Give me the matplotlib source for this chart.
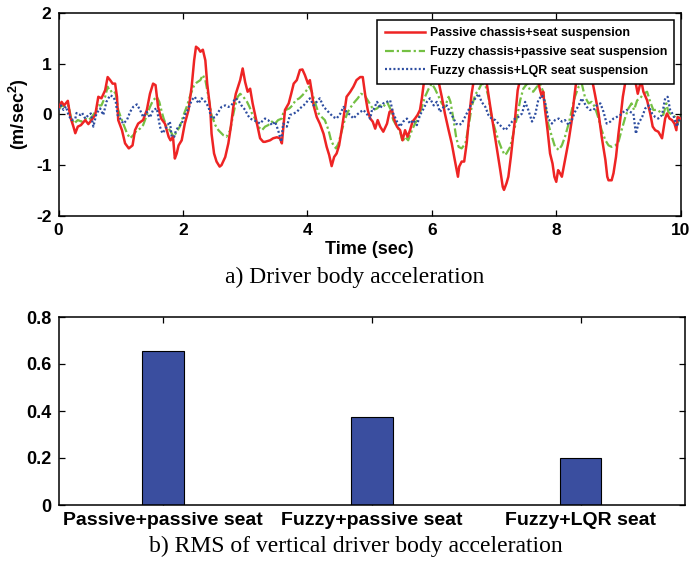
import matplotlib
matplotlib.use("Agg")
import matplotlib.pyplot as plt
import numpy as np

plt.rcParams['font.family'] = ['Liberation Sans', 'DejaVu Sans']
plt.rcParams['font.weight'] = 'bold'
plt.rcParams['axes.labelweight'] = 'bold'
plt.rcParams['axes.unicode_minus'] = False
plt.rcParams['mathtext.fontset'] = 'custom'
plt.rcParams['mathtext.rm'] = 'Liberation Sans:bold'
plt.rcParams['mathtext.bf'] = 'Liberation Sans:bold'
plt.rcParams['mathtext.default'] = 'rm'

# ---------------- data ----------------
series_labels = ["Passive chassis+seat suspension",
                 "Fuzzy chassis+passive seat suspension",
                 "Fuzzy chassis+LQR seat suspension"]

red_points = [
(0.00,0.12),(0.05,0.25),(0.09,0.18),(0.15,0.27),(0.19,-0.05),(0.24,-0.24),(0.27,-0.37),(0.31,-0.24),(0.36,-0.21),(0.43,-0.11),
(0.48,-0.19),(0.53,-0.11),(0.59,-0.01),(0.64,0.35),(0.69,0.32),(0.75,0.48),(0.79,0.74),(0.83,0.68),(0.87,0.61),(0.91,0.61),
(0.94,0.35),(0.96,-0.11),(1.02,-0.31),(1.07,-0.57),(1.13,-0.67),(1.19,-0.61),(1.23,-0.31),(1.28,-0.18),(1.36,-0.11),(1.42,0.09),
(1.47,0.41),(1.52,0.61),(1.56,0.58),(1.60,0.15),(1.65,-0.08),(1.71,-0.18),(1.77,-0.44),(1.80,-0.51),(1.84,-0.44),(1.87,-0.87),
(1.90,-0.77),(1.93,-0.61),(1.98,-0.51),(2.03,-0.18),(2.09,0.09),(2.14,0.55),(2.18,1.07),(2.21,1.34),(2.25,1.30),(2.28,1.24),
(2.32,1.28),(2.36,1.07),(2.39,0.61),(2.44,0.09),(2.46,-0.38),(2.50,-0.77),(2.54,-0.93),(2.59,-1.03),(2.62,-1.00),(2.68,-0.84),
(2.73,-0.57),(2.77,-0.24),(2.81,0.15),(2.85,0.41),(2.92,0.68),(2.96,0.91),(3.00,0.64),(3.04,0.45),(3.08,0.51),(3.12,0.22),
(3.16,-0.01),(3.20,-0.24),(3.24,-0.47),(3.29,-0.54),(3.32,-0.54),(3.40,-0.51),(3.45,-0.47),(3.51,-0.45),(3.56,-0.47),(3.59,-0.57),
(3.61,-0.31),(3.64,0.09),(3.70,0.22),(3.74,0.41),(3.78,0.61),(3.83,0.68),(3.88,0.88),(3.92,0.89),(3.96,0.78),(4.01,0.61),
(4.04,0.68),(4.07,0.45),(4.10,0.18),(4.15,-0.05),(4.20,-0.18),(4.26,-0.38),(4.31,-0.64),(4.35,-0.80),(4.39,-1.02),(4.43,-0.84),
(4.47,-0.77),(4.51,-0.61),(4.55,-0.31),(4.60,0.09),(4.63,0.35),(4.69,0.45),(4.74,0.55),(4.79,0.68),(4.85,0.74),(4.89,0.74),
(4.93,0.38),(4.97,0.09),(5.01,-0.08),(5.05,-0.14),(5.09,-0.28),(5.13,-0.11),(5.17,-0.24),(5.22,-0.34),(5.28,-0.18),(5.32,0.05),
(5.36,0.09),(5.39,-0.08),(5.44,-0.24),(5.49,-0.31),(5.53,-0.51),(5.57,-0.31),(5.61,-0.44),(5.65,-0.31),(5.69,-0.14),(5.73,-0.08),
(5.77,-0.01),(5.81,0.09),(5.84,0.32),(5.87,0.61),(5.90,0.75),(5.95,0.85),(6.02,0.88),(6.10,0.70),(6.16,0.35),(6.21,0.02),
(6.27,-0.31),(6.32,-0.57),(6.36,-0.84),(6.39,-1.03),(6.42,-1.23),(6.44,-1.03),(6.48,-0.93),(6.52,-0.93),(6.56,-0.57),(6.60,-0.05),
(6.64,0.41),(6.67,0.64),(6.75,0.82),(6.80,0.80),(6.88,0.64),(6.94,0.15),(6.99,-0.24),(7.04,-0.64),(7.10,-1.10),(7.14,-1.43),
(7.16,-1.49),(7.20,-1.36),(7.23,-1.23),(7.27,-0.84),(7.31,-0.38),(7.34,-0.05),(7.38,0.48),(7.41,0.64),(7.50,0.85),(7.62,0.85),
(7.71,0.64),(7.74,0.48),(7.77,0.35),(7.79,0.45),(7.82,0.09),(7.86,-0.31),(7.90,-0.77),(7.94,-0.97),(7.97,-1.23),(8.00,-1.33),
(8.03,-1.10),(8.06,-1.16),(8.09,-1.23),(8.12,-1.03),(8.15,-0.84),(8.20,-0.51),(8.25,-0.11),(8.29,0.35),(8.32,0.64),(8.40,0.85),
(8.52,0.85),(8.58,0.66),(8.62,0.41),(8.68,0.02),(8.73,-0.44),(8.79,-0.90),(8.82,-1.23),(8.84,-1.30),(8.89,-1.30),(8.92,-1.16),
(8.96,-0.84),(9.00,-0.38),(9.04,0.02),(9.07,0.35),(9.11,0.64),(9.19,0.72),(9.27,0.66),(9.31,0.41),(9.35,0.61),(9.38,0.58),
(9.40,0.45),(9.46,0.28),(9.51,0.02),(9.55,-0.24),(9.59,-0.31),(9.64,-0.34),(9.70,-0.47),(9.72,-0.31),(9.75,-0.08),(9.78,0.02),
(9.82,-0.08),(9.86,-0.11),(9.90,-0.18),(9.93,-0.31),(9.95,-0.05),(10.0,-0.08)]

green_points = [
(0.00,0.09),(0.05,0.18),(0.10,0.15),(0.16,0.18),(0.20,-0.05),(0.25,-0.18),(0.31,-0.11),(0.37,-0.14),(0.43,-0.08),(0.48,-0.11),
(0.53,-0.06),(0.59,0.05),(0.64,0.18),(0.69,0.18),(0.75,0.35),(0.79,0.55),(0.83,0.45),(0.88,0.48),(0.92,0.41),(0.96,0.09),
(1.00,-0.05),(1.04,-0.18),(1.10,-0.37),(1.15,-0.47),(1.20,-0.41),(1.26,-0.31),(1.31,-0.28),(1.36,-0.21),(1.42,-0.01),(1.47,0.15),
(1.52,0.28),(1.58,0.35),(1.62,0.25),(1.66,0.05),(1.69,-0.08),(1.74,-0.24),(1.79,-0.31),(1.85,-0.44),(1.90,-0.34),(1.95,-0.24),
(2.01,-0.01),(2.06,0.15),(2.11,0.35),(2.17,0.55),(2.22,0.63),(2.28,0.68),(2.32,0.78),(2.36,0.68),(2.41,0.35),(2.46,-0.01),
(2.52,-0.21),(2.57,-0.31),(2.65,-0.41),(2.70,-0.44),(2.76,-0.31),(2.80,-0.05),(2.84,0.18),(2.88,0.35),(2.92,0.41),(2.97,0.35),
(3.03,0.25),(3.07,0.15),(3.11,0.02),(3.16,-0.08),(3.21,-0.24),(3.27,-0.31),(3.32,-0.24),(3.37,-0.21),(3.43,-0.14),(3.48,-0.18),
(3.53,-0.11),(3.59,-0.08),(3.61,0.02),(3.65,0.09),(3.71,0.12),(3.76,0.18),(3.81,0.28),(3.87,0.32),(3.92,0.38),(3.97,0.45),
(4.03,0.55),(4.07,0.45),(4.12,0.25),(4.18,0.02),(4.23,-0.05),(4.28,-0.11),(4.34,-0.31),(4.38,-0.51),(4.42,-0.61),(4.46,-0.67),
(4.50,-0.57),(4.54,-0.38),(4.60,-0.11),(4.65,0.05),(4.70,0.15),(4.76,0.25),(4.81,0.32),(4.86,0.41),(4.92,0.38),(4.97,0.28),
(5.02,0.18),(5.06,0.09),(5.12,0.12),(5.17,0.18),(5.22,0.15),(5.28,0.25),(5.33,0.12),(5.38,-0.11),(5.44,-0.24),(5.49,-0.34),
(5.53,-0.54),(5.57,-0.44),(5.62,-0.51),(5.68,-0.31),(5.73,-0.18),(5.78,-0.08),(5.84,0.15),(5.89,0.35),(5.95,0.51),(6.00,0.61),
(6.05,0.51),(6.11,0.35),(6.16,0.22),(6.21,0.15),(6.27,0.35),(6.30,0.25),(6.35,-0.11),(6.39,-0.44),(6.43,-0.64),(6.48,-0.67),
(6.54,-0.57),(6.59,-0.24),(6.64,0.15),(6.70,0.40),(6.75,0.48),(6.80,0.61),(6.86,0.58),(6.91,0.35),(6.96,-0.05),(7.02,-0.31),
(7.07,-0.51),(7.12,-0.67),(7.17,-0.80),(7.20,-0.77),(7.26,-0.64),(7.31,-0.38),(7.37,-0.05),(7.42,0.28),(7.47,0.51),(7.53,0.61),
(7.58,0.48),(7.63,0.45),(7.69,0.55),(7.74,0.61),(7.79,0.45),(7.83,0.15),(7.87,-0.18),(7.93,-0.44),(7.98,-0.64),(8.04,-0.70),
(8.09,-0.61),(8.14,-0.44),(8.20,-0.18),(8.25,0.09),(8.30,0.35),(8.36,0.55),(8.41,0.61),(8.46,0.35),(8.52,0.22),(8.57,0.25),
(8.62,0.15),(8.68,-0.08),(8.73,-0.31),(8.79,-0.51),(8.84,-0.61),(8.89,-0.64),(8.95,-0.61),(9.00,-0.54),(9.05,-0.31),(9.11,-0.05),
(9.16,0.12),(9.21,0.22),(9.25,0.09),(9.30,0.28),(9.35,0.32),(9.40,0.41),(9.46,0.45),(9.51,0.25),(9.56,0.09),(9.62,0.09),
(9.67,0.05),(9.72,-0.01),(9.77,0.22),(9.80,0.05),(9.86,-0.01),(9.91,-0.05),(9.95,-0.18),(10.0,-0.01)]

blue_points = [
(0.00,0.09),(0.04,0.18),(0.08,0.09),(0.12,0.16),(0.16,-0.01),(0.21,-0.11),(0.27,-0.08),(0.29,0.03),(0.35,-0.01),(0.38,0.03),
(0.43,-0.08),(0.48,-0.01),(0.52,0.02),(0.56,-0.24),(0.61,0.02),(0.67,0.12),(0.72,-0.01),(0.77,0.25),(0.83,0.38),(0.88,0.35),
(0.92,0.25),(0.95,-0.01),(0.99,-0.08),(1.04,-0.18),(1.10,-0.11),(1.15,0.05),(1.20,0.15),(1.26,0.20),(1.31,0.09),(1.36,-0.05),
(1.42,0.05),(1.47,-0.06),(1.52,0.09),(1.58,0.12),(1.63,-0.24),(1.67,-0.37),(1.69,-0.34),(1.74,-0.24),(1.79,-0.14),(1.82,-0.44),
(1.86,-0.44),(1.89,-0.31),(1.93,-0.24),(1.98,-0.18),(2.03,-0.01),(2.09,0.12),(2.14,0.28),(2.19,0.35),(2.25,0.22),(2.30,0.32),
(2.36,0.25),(2.41,0.15),(2.46,-0.08),(2.52,-0.05),(2.57,0.05),(2.62,0.15),(2.68,0.18),(2.73,0.15),(2.78,0.18),(2.84,0.32),
(2.89,0.28),(2.94,0.18),(3.00,0.09),(3.04,-0.01),(3.08,-0.08),(3.13,-0.11),(3.19,-0.14),(3.24,-0.18),(3.29,-0.11),(3.32,-0.08),
(3.37,-0.11),(3.43,-0.21),(3.48,-0.14),(3.53,-0.31),(3.58,-0.54),(3.61,-0.18),(3.67,-0.24),(3.72,-0.01),(3.78,0.02),(3.83,0.05),
(3.88,0.12),(3.94,0.18),(3.99,0.25),(4.04,0.32),(4.10,0.18),(4.15,0.25),(4.20,0.32),(4.26,0.15),(4.31,0.09),(4.36,0.02),
(4.42,-0.05),(4.47,-0.08),(4.53,0.02),(4.58,0.15),(4.63,0.05),(4.69,-0.01),(4.74,-0.08),(4.79,-0.01),(4.85,0.05),(4.90,0.09),
(4.95,0.02),(5.01,-0.08),(5.04,0.10),(5.06,0.09),(5.12,0.25),(5.17,0.12),(5.22,0.22),(5.28,0.25),(5.33,0.28),(5.38,0.02),
(5.44,-0.14),(5.49,-0.24),(5.54,-0.14),(5.60,-0.08),(5.65,-0.18),(5.70,-0.11),(5.76,-0.21),(5.81,-0.01),(5.87,0.12),(5.92,0.25),
(5.97,0.32),(6.03,0.18),(6.08,0.25),(6.13,0.05),(6.19,0.15),(6.24,0.18),(6.29,0.05),(6.35,-0.08),(6.39,-0.18),(6.43,-0.21),
(6.48,-0.18),(6.52,-0.08),(6.59,0.09),(6.64,0.22),(6.70,0.32),(6.75,0.41),(6.80,0.25),(6.86,0.15),(6.91,-0.01),(6.96,-0.08),
(7.02,-0.11),(7.07,-0.18),(7.12,-0.24),(7.18,-0.31),(7.23,-0.24),(7.29,-0.14),(7.34,-0.08),(7.39,-0.05),(7.45,0.02),(7.50,0.25),
(7.55,0.09),(7.61,-0.14),(7.66,-0.01),(7.71,0.28),(7.77,0.38),(7.82,0.25),(7.87,-0.08),(7.93,-0.18),(7.98,-0.11),(8.04,-0.08),
(8.09,-0.14),(8.14,-0.11),(8.20,-0.21),(8.25,-0.11),(8.30,0.05),(8.36,0.18),(8.41,0.32),(8.44,0.25),(8.49,0.15),(8.54,0.09),
(8.60,0.09),(8.65,0.18),(8.71,0.22),(8.76,0.05),(8.81,-0.18),(8.87,-0.14),(8.92,-0.08),(8.97,-0.05),(9.03,-0.01),(9.08,0.05),
(9.13,0.09),(9.19,0.05),(9.24,0.02),(9.28,-0.38),(9.32,-0.18),(9.38,-0.05),(9.43,0.12),(9.48,0.18),(9.54,0.02),(9.59,-0.05),
(9.64,-0.08),(9.70,-0.01),(9.75,0.32),(9.79,0.35),(9.83,0.09),(9.88,-0.01),(9.94,-0.24),(9.99,-0.05)]

time_ticks = [0, 2, 4, 6, 8, 10]
acc_ticks = [-2, -1, 0, 1, 2]

bar_categories = ["Passive+passive seat", "Fuzzy+passive seat", "Fuzzy+LQR seat"]
rms_values = [0.656, 0.376, 0.198]
rms_ticks = [0, 0.2, 0.4, 0.6, 0.8]
rms_tick_labels = ["0", "0.2", "0.4", "0.6", "0.8"]

caption_a = "a) Driver body acceleration"
caption_b = "b) RMS of vertical driver body acceleration"

# ---------------- figure ----------------
W, H = 691, 562
fig = plt.figure(figsize=(W / 100, H / 100), dpi=100)
fig.patch.set_facecolor('white')

def frac_box(x0, y0, x1, y1):
    return [x0 / W, 1 - y1 / H, (x1 - x0) / W, (y1 - y0) / H]

ax1 = fig.add_axes(frac_box(58.5, 13.3, 680.7, 215.7))
ax2 = fig.add_axes(frac_box(58.5, 317, 685, 505))

for ax in (ax1, ax2):
    for s in ax.spines.values():
        s.set_linewidth(1.1)
    ax.tick_params(direction='in', top=True, right=True, length=4, width=0.9)

# top plot
rt, rv = zip(*red_points)
gt, gv = zip(*green_points)
bt, bv = zip(*blue_points)
ax1.plot(rt, rv, color='#EE2424', lw=1.8, label=series_labels[0], zorder=3)
ax1.plot(gt, gv, color='#74C043', lw=1.6, dashes=(4, 1.3, 1, 1.3), label=series_labels[1], zorder=2)
ax1.plot(bt, bv, color='#2D4DA0', lw=1.6, dashes=(0.9, 1.0), label=series_labels[2], zorder=4)
ax1.set_xlim(0, 10)
ax1.set_ylim(-2, 2)
ax1.set_xticks(time_ticks)
ax1.set_yticks(acc_ticks)
ax1.tick_params(labelsize=12.5, pad=5)
ax1.set_xlabel("Time (sec)", fontsize=13, va='center')
ax1.xaxis.set_label_coords(0.5, -0.165)
ax1.set_ylabel(r"(m/sec$^{2}$)", fontsize=13, va='center')
ax1.yaxis.set_label_coords(-0.063, 0.5)

leg = ax1.legend(loc='upper right', bbox_to_anchor=(0.99, 0.967), prop={'weight': 'bold', 'size': 8.9},
                 frameon=True, fancybox=False, edgecolor='black', framealpha=1, handlelength=3.3,
                 borderpad=0.6, labelspacing=0.54, handletextpad=0.35, borderaxespad=0)
leg.get_frame().set_linewidth(1.1)
leg.set_zorder(10)

# bar plot
x = np.arange(1, len(bar_categories) + 1)
ax2.bar(x, rms_values, width=0.2, color='#3A4E9F', edgecolor='black', linewidth=0.8, zorder=2)
ax2.set_xlim(0.5, 3.5)
ax2.set_ylim(0, 0.8)
ax2.set_xticks(x)
ax2.set_xticklabels(bar_categories)
ax2.set_yticks(rms_ticks)
ax2.set_yticklabels(rms_tick_labels)
ax2.tick_params(axis='y', labelsize=13, pad=5)
ax2.tick_params(axis='x', labelsize=14, pad=5)

# captions
fig.text(355 / W, 1 - 277 / H, caption_a, family='Liberation Serif', weight='normal', size=17,
         ha='center', va='center')
fig.text(356 / W, 1 - 546 / H, caption_b, family='Liberation Serif', weight='normal', size=17,
         ha='center', va='center')

fig.savefig("out.png", dpi=100, facecolor='white')
